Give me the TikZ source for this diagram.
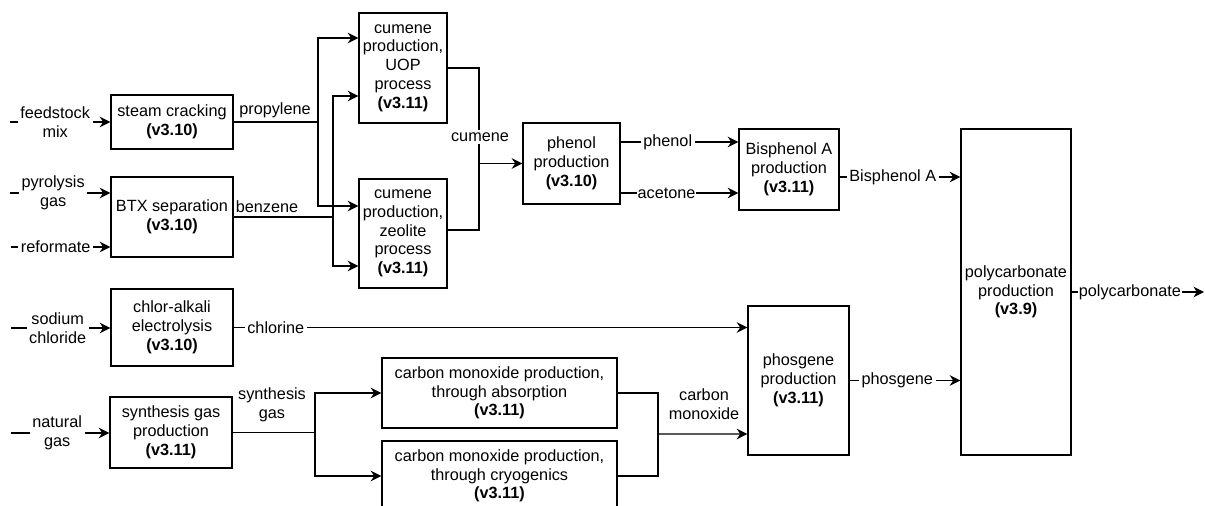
\documentclass[tikz,border=0pt]{standalone}
\usepackage{fontspec}
\setmainfont{Liberation Sans}
\usetikzlibrary{arrows.meta,calc}
\begin{document}
\begin{tikzpicture}[x=0.02cm,y=-0.02cm,
  font=\fontsize{9.25}{10.7}\selectfont,
  box/.style={draw, line width=0.8pt, align=center, inner sep=0pt},
  arr/.style={-{Stealth[length=6pt,width=6pt]}, line width=0.8pt},
  ln/.style={line width=0.8pt},
  lbl/.style={fill=white, inner sep=1.5pt, align=center},
  lbla/.style={inner sep=0pt, align=center}]
\clip (0,0) rectangle (1205,506);

% boxes
\node[box, minimum width=2.44cm, minimum height=1.08cm] (sc) at (172,122) {steam cracking\\\textbf{(v3.10)}};
\node[box, minimum width=2.44cm, minimum height=1.6cm] (btx) at (172,217) {BTX separation\\\textbf{(v3.10)}};
\node[box, minimum width=2.44cm, minimum height=1.54cm] (ca) at (172,327.5) {chlor-alkali\\electrolysis\\\textbf{(v3.10)}};
\node[box, minimum width=2.44cm, minimum height=1.42cm] (sg) at (171,432.5) {synthesis gas\\production\\\textbf{(v3.11)}};
\node[box, minimum width=1.76cm, minimum height=2.2cm] (uop) at (403,68) {cumene\\production,\\UOP\\process\\\textbf{(v3.11)}};
\node[box, minimum width=1.76cm, minimum height=2.18cm] (zeo) at (403,233.5) {cumene\\production,\\zeolite\\process\\\textbf{(v3.11)}};
\node[box, minimum width=1.94cm, minimum height=1.62cm] (phenol) at (571.5,163.5) {phenol\\production\\\textbf{(v3.10)}};
\node[box, minimum width=2.0cm, minimum height=1.62cm] (bpa) at (789,169.5) {Bisphenol A\\production\\\textbf{(v3.11)}};
\node[box, minimum width=2.2cm, minimum height=6.52cm] (pc) at (1016,292) {polycarbonate\\production\\\textbf{(v3.9)}};
\node[box, minimum width=2.02cm, minimum height=2.98cm] (phos) at (798.5,380.5) {phosgene\\production\\\textbf{(v3.11)}};
\node[box, minimum width=4.7cm, minimum height=1.4cm] (coa) at (499.5,393) {carbon monoxide production,\\through absorption\\\textbf{(v3.11)}};
\node[box, minimum width=4.7cm, minimum height=1.4cm] (coc) at (499.5,476) {carbon monoxide production,\\through cryogenics\\\textbf{(v3.11)}};

% free ends
\coordinate (infs) at (10,122);
\coordinate (inpy) at (10,193);
\coordinate (inre) at (11,247);
\coordinate (inna) at (11,328);
\coordinate (inng) at (11,433);
\coordinate (outpc) at (1204,292);

% inputs
\draw[arr] (infs) -- node[lbl,pos=0.45]{feedstock\\mix} (sc.west);
\coordinate (btxa) at ([yshift=0.48cm]btx.west);
\coordinate (btxb) at ([yshift=-0.6cm]btx.west);
\draw[arr] (inpy) -- node[lbl,pos=0.43]{pyrolysis\\gas} (inpy -| btxa);
\draw[arr] (inre) -- node[lbl,pos=0.45]{reformate} (inre -| btxb);
\draw[arr] (inna) -- node[lbl,pos=0.47]{sodium\\chloride} (inna -| ca.west);
\draw[arr] (inng) -- node[lbl,pos=0.47]{natural\\gas} (inng -| sg.west);

% propylene
\coordinate (jp) at (318,122);
\coordinate (u1) at ([yshift=0.6cm]uop.west);
\coordinate (u2) at ([yshift=-0.56cm]uop.west);
\coordinate (z1) at ([yshift=0.55cm]zeo.west);
\coordinate (z2) at ([yshift=-0.65cm]zeo.west);
\draw[ln] (sc.east) -- (sc.east -| jp);
\node[lbla] (lprop) at (275,110) {propylene};
\draw[arr] (sc.east -| jp) |- (u1);
\draw[arr] (sc.east -| jp) |- (z1);
% benzene
\coordinate (jb) at (333,217);
\draw[ln] (btx.east) -- (btx.east -| jb);
\node[lbla] (lbenz) at (267,207) {benzene};
\draw[arr] (btx.east -| jb) |- (u2);
\draw[arr] (btx.east -| jb) |- (z2);

% cumene
\coordinate (jc) at (479,163.5);
\draw[ln] (uop.east) -| (jc);
\draw[ln] ([yshift=0.07cm]zeo.east) -| (jc);
\node[lbl] (lcum) at (480,137) {cumene};
\draw[arr] (jc) -- (phenol.west);

% phenol / acetone
\coordinate (ph1) at ([yshift=0.43cm]phenol.east);
\coordinate (ph2) at ([yshift=-0.59cm]phenol.east);
\draw[arr] (ph1) -- node[lbl,pos=0.4]{phenol} (ph1 -| bpa.west);
\draw[arr] (ph2) -- node[lbl,pos=0.39,inner sep=0.5pt]{acetone} (ph2 -| bpa.west);

% Bisphenol A
\coordinate (bp1) at ([yshift=-0.15cm]bpa.east);
\draw[arr] (bp1) -- node[lbl,pos=0.44]{Bisphenol A} (bp1 -| pc.west);

% polycarbonate out
\draw[arr] (pc.east) -- node[lbl,pos=0.44,inner sep=0.5pt]{polycarbonate} (outpc);

% chlorine
\draw[arr] (ca.east) -- node[lbl,pos=0.082]{chlorine} (ca.east -| phos.west);

% phosgene
\draw[arr] (phos.east) -- node[lbl,pos=0.43]{phosgene} (phos.east -| pc.west);

% synthesis gas
\coordinate (js) at (315,432.5);
\draw[ln] (sg.east) -- (js);
\node[lbla] (lsyn) at (272,405) {synthesis\\gas};
\draw[arr] (js) |- (coa.west);
\draw[arr] (js) |- (coc.west);

% carbon monoxide
\coordinate (jco) at (658,434);
\draw[ln] (coa.east) -| (jco);
\draw[ln] (coc.east) -| (jco);
\node[lbla] (lco) at (704,404) {carbon\\monoxide};
\coordinate (ph3) at ([yshift=-1.07cm]phos.west);
\draw[arr] (jco) -- (ph3);
\end{tikzpicture}
\end{document}
